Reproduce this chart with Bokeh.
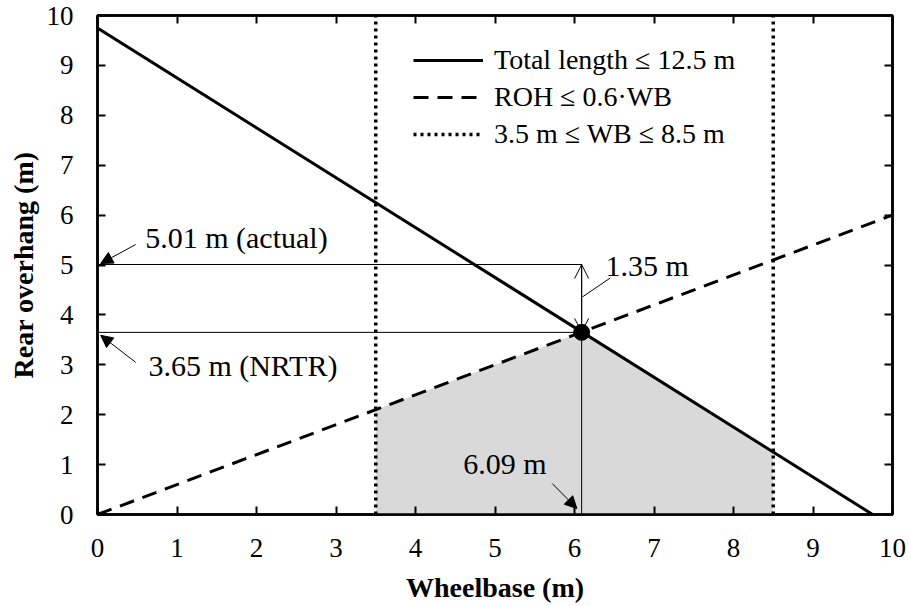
from bokeh.plotting import figure
from bokeh.models import (Range1d, LinearAxis, FixedTicker, Legend, LegendItem,
                          Arrow, NormalHead, OpenHead, ColumnDataSource)
from bokeh.core.properties import value
from bokeh.embed import file_html
from bokeh.resources import INLINE

# ---------------- data ----------------
ticks = [0, 1, 2, 3, 4, 5, 6, 7, 8, 9, 10]
wb_total = [0.0, 9.75]          # total length <= 12.5 m  -> ROH = 9.75 - WB
roh_total = [9.75, 0.0]
wb_ratio = [0.0, 10.0]          # ROH <= 0.6 WB
roh_ratio = [0.0, 6.0]
wb_limits = [3.5, 8.5]          # 3.5 m <= WB <= 8.5 m
limit_y = [0.0, 10.0]
shade_x = [3.5, 3.5, 6.09, 8.5, 8.5]
shade_y = [0.0, 2.1, 3.65, 1.25, 0.0]
opt_wb = 6.09
opt_roh = 3.65
actual_roh = 5.01
legend_labels = ["Total length \u2264 12.5 m", "ROH \u2264 0.6\u00b7WB",
                 "3.5 m \u2264 WB \u2264 8.5 m"]
ann_text = ["5.01 m (actual)", "3.65 m (NRTR)", "1.35 m", "6.09 m"]
ann_x = [0.60, 0.64, 6.39, 4.60]
ann_y = [5.55, 2.99, 4.99, 1.02]
# arrows (tail -> tip)
arr_x0 = [0.48, 0.48, 5.72]
arr_y0 = [5.41, 3.05, 0.62]
arr_x1 = [0.04, 0.04, 6.03]
arr_y1 = [5.03, 3.59, 0.12]
leader_x = [6.45, 6.10]
leader_y = [4.74, 4.36]

FONT = "Times New Roman, Liberation Serif, serif"

p = figure(width=910, height=606, output_backend="svg", toolbar_location=None,
           x_range=Range1d(0, 10), y_range=Range1d(0, 10),
           min_border_left=97, min_border_right=18, min_border_top=15,
           min_border_bottom=92)
p.grid.visible = False
p.outline_line_color = "black"
p.outline_line_width = 2.5
p.background_fill_color = "white"
p.border_fill_color = "white"

ticker = FixedTicker(ticks=ticks)

def style_axis(ax, labels=True):
    ax.ticker = ticker
    ax.axis_line_width = 2.5
    ax.axis_line_color = "black"
    ax.major_tick_in = 8
    ax.major_tick_out = 0
    ax.major_tick_line_width = 2
    ax.minor_tick_line_color = None
    ax.major_label_text_font = FONT
    ax.major_label_text_font_size = "27px"
    ax.major_label_text_color = "black"
    ax.axis_label_text_font = FONT
    ax.axis_label_text_font_size = "28px"
    ax.axis_label_text_font_style = "bold"
    ax.axis_label_text_color = "black"
    if not labels:
        ax.major_label_overrides = {t: "" for t in ticks}
        ax.major_label_standoff = 0

style_axis(p.xaxis[0])
style_axis(p.yaxis[0])
p.xaxis[0].axis_label = "Wheelbase (m)"
p.yaxis[0].axis_label = "Rear overhang (m)"
p.xaxis[0].major_label_standoff = 24
p.yaxis[0].major_label_standoff = 24
p.xaxis[0].axis_label_standoff = 12
p.yaxis[0].axis_label_standoff = 5

top_ax = LinearAxis()
right_ax = LinearAxis()
style_axis(top_ax, labels=False)
style_axis(right_ax, labels=False)
p.add_layout(top_ax, "above")
p.add_layout(right_ax, "right")

# shaded feasible region
p.patch(shade_x, shade_y, fill_color="#d9d9d9", line_color=None)

# reference lines
p.segment(x0=[0, 0], y0=[actual_roh, opt_roh], x1=[opt_wb, opt_wb],
          y1=[actual_roh, opt_roh], line_color="black", line_width=1)
p.segment(x0=[opt_wb], y0=[0], x1=[opt_wb], y1=[actual_roh],
          line_color="black", line_width=1)

r_dot = p.multi_line(xs=[[w, w] for w in wb_limits], ys=[limit_y, limit_y],
                     line_color="black", line_width=3.5, line_dash="3 4")
r_dash = p.line(wb_ratio, roh_ratio, line_color="black", line_width=3,
                line_dash="15 9")
r_solid = p.line(wb_total, roh_total, line_color="black", line_width=3)

p.scatter([opt_wb], [opt_roh], size=16, color="black")

# arrows
for i in range(len(arr_x0)):
    p.add_layout(Arrow(end=NormalHead(size=12, fill_color="black",
                                      line_color="black"),
                       x_start=arr_x0[i], y_start=arr_y0[i],
                       x_end=arr_x1[i], y_end=arr_y1[i],
                       line_width=1, line_color="black"))
p.add_layout(Arrow(start=OpenHead(size=14, line_width=1, line_color="black"),
                   end=OpenHead(size=14, line_width=1, line_color="black"),
                   x_start=opt_wb, y_start=opt_roh, x_end=opt_wb,
                   y_end=actual_roh, line_width=1, line_color="black"))
p.line(leader_x, leader_y, line_color="black", line_width=1)

src = ColumnDataSource(dict(x=ann_x, y=ann_y, t=ann_text))
p.text(x="x", y="y", text="t", source=src, text_font=value(FONT),
       text_font_size="30px", text_baseline="middle", text_align="left",
       text_color="black")

legend = Legend(items=[LegendItem(label=legend_labels[0], renderers=[r_solid]),
                       LegendItem(label=legend_labels[1], renderers=[r_dash]),
                       LegendItem(label=legend_labels[2], renderers=[r_dot])],
                location=(316, 364), border_line_color=None,
                background_fill_alpha=0, padding=0, spacing=5,
                glyph_width=70, glyph_height=28, label_height=28,
                label_standoff=11, label_text_font=FONT,
                label_text_font_size="28px", label_text_color="black",
                margin=0)
p.add_layout(legend, "center")

open("out.html", "w").write(file_html(p, INLINE))
